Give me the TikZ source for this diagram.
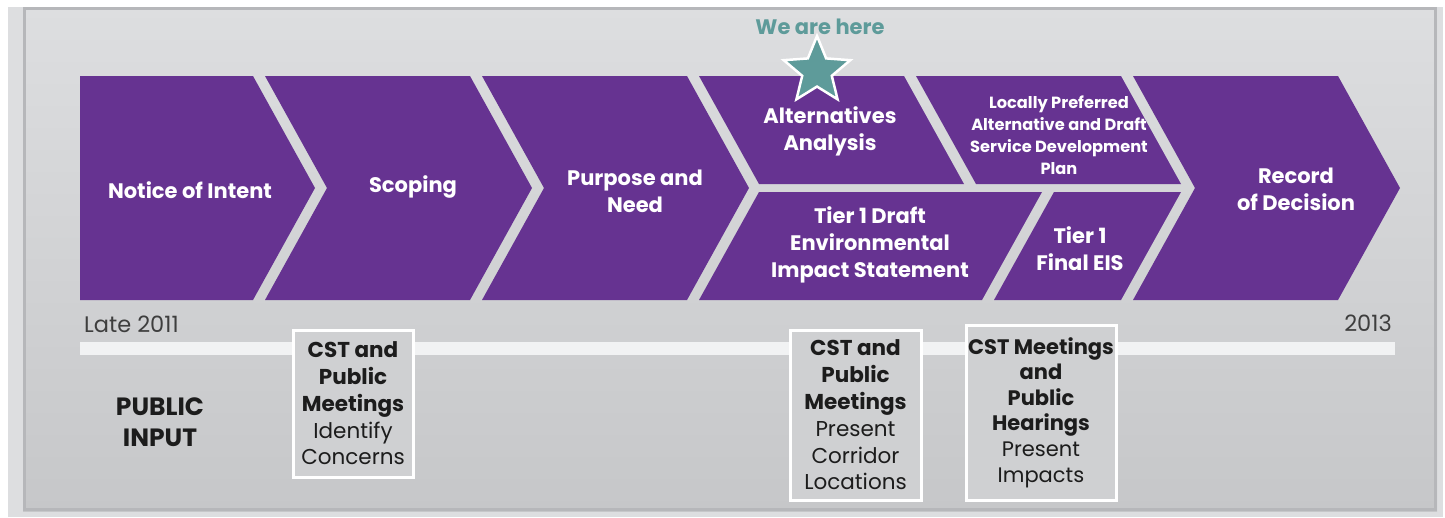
\documentclass[tikz,border=0pt]{standalone}
\usepackage{fontspec}
\setmainfont{Poppins}
\usetikzlibrary{shapes.geometric}
\definecolor{phasepurple}{RGB}{102,51,145}
\definecolor{hereteal}{RGB}{94,155,154}
\definecolor{paneltop}{RGB}{221,222,224}
\definecolor{panelbot}{RGB}{198,199,201}
\definecolor{panelrim}{RGB}{182,183,186}
\definecolor{inktext}{RGB}{28,28,28}
\tikzset{
  phase/.style={fill=phasepurple},
  phaselabel/.style={text=white,font=\bfseries\fontsize{21}{27}\selectfont,align=center,inner sep=0},
  smalllabel/.style={text=white,font=\bfseries\fontsize{16.2}{22}\selectfont,align=center,inner sep=0},
  datelabel/.style={text=inktext!85,font=\fontsize{22.5}{26}\selectfont,inner sep=0},
  inputbox/.style={draw=white,line width=3,fill=panelbot!60!paneltop,text=inktext,
    font=\fontsize{21.5}{26.8}\selectfont,align=center,inner sep=0}
}
\begin{document}
\begin{tikzpicture}[x=1pt,y=-1pt]
  \useasboundingbox (0,0) rectangle (1445,517);
  % panel
  \fill[paneltop] (8,7) rectangle (1443,517);
  \shade[top color=paneltop,bottom color=panelbot] (23,7) rectangle (1437,511);
  \draw[panelrim,line width=3] (24.5,8.5) rectangle (1435.5,509.5);
  % phases
  \fill[phase] (80,76) -- (253,76) -- (315,188) -- (253,300) -- (80,300) -- cycle;
  \fill[phase] (265,76) -- (470,76) -- (532,188) -- (470,300) -- (265,300) -- (327,188) -- cycle;
  \fill[phase] (482,76) -- (687,76) -- (749,188) -- (687,300) -- (482,300) -- (544,188) -- cycle;
  \fill[phase] (699,76) -- (904,76) -- (964,184) -- (759,184) -- cycle;
  \fill[phase] (916,76) -- (1121,76) -- (1181,184) -- (976,184) -- cycle;
  \fill[phase] (759,192) -- (1042,192) -- (982,300) -- (699,300) -- cycle;
  \fill[phase] (1054,192) -- (1181,192) -- (1121,300) -- (994,300) -- cycle;
  \fill[phase] (1133,76) -- (1338,76) -- (1400,188) -- (1338,300) -- (1133,300) -- (1195,188) -- cycle;
  \node[phaselabel] (notice) at (190,190) {Notice of Intent};
  \node[phaselabel] (scoping) at (413,187) {Scoping};
  \node[phaselabel] (purpose) at (635,191) {Purpose and\\Need};
  \node[phaselabel] (alts) at (830,131) {Alternatives\\Analysis};
  \node[smalllabel] (lpa) at (1059,135) {Locally Preferred\\Alternative and Draft\\Service Development\\Plan};
  \node[phaselabel] (deis) at (870,245) {Tier 1 Draft\\Environmental\\Impact Statement};
  \node[phaselabel] (feis) at (1080,249) {Tier 1\\Final EIS};
  \node[phaselabel] (rod) at (1296,189) {Record\\of Decision};
  % we are here
  \node[star,star points=5,star point ratio=2.25,minimum size=70,inner sep=0,
    fill=hereteal,draw=white,line width=2.5] (star) at (817,71) {};
  \node[text=hereteal,font=\bfseries\fontsize{21}{24}\selectfont,inner sep=0] (here) at (820,27) {We are here};
  % timeline
  \fill[paneltop!40!white] (80,342) rectangle (1395,355);
  \node[datelabel,anchor=west] (start) at (84,324) {Late 2011};
  \node[datelabel,anchor=east] (finish) at (1392,323) {2013};
  \node[text=inktext,font=\bfseries\fontsize{25}{31}\selectfont,align=center,inner sep=0] (input) at (160,422) {PUBLIC\\INPUT};
  \node[inputbox,minimum width=120,minimum height=147] (scopemtg) at (353,403.5)
    {\textbf{CST and}\\\textbf{Public}\\\textbf{Meetings}\\Identify\\Concerns};
  \node[inputbox,minimum width=131,minimum height=170] (altsmtg) at (855.5,415)
    {\textbf{CST and}\\\textbf{Public}\\\textbf{Meetings}\\Present\\Corridor\\Locations};
  \node[inputbox,minimum width=150,minimum height=175,font=\fontsize{21}{25.6}\selectfont] (hearings) at (1041,412.5)
    {\textbf{CST Meetings}\\\textbf{and}\\\textbf{Public}\\\textbf{Hearings}\\Present\\Impacts};
\end{tikzpicture}
\end{document}
